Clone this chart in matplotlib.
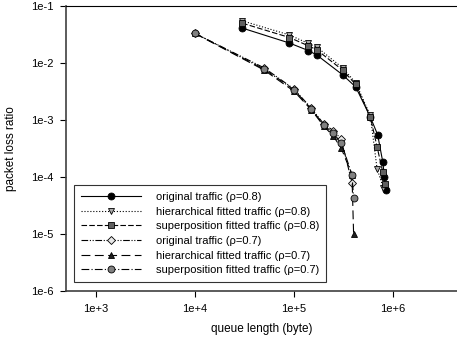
import matplotlib.pyplot as plt
from matplotlib.ticker import FixedLocator, NullLocator

plt.rcParams['font.family'] = ['Liberation Sans', 'DejaVu Sans']

# rho = 0.8
x_orig08 = [3e4, 9e4, 1.4e5, 1.7e5, 3.1e5, 4.2e5, 5.9e5, 7.0e5, 7.9e5, 8.2e5, 8.4e5]
y_orig08 = [0.041, 0.0224, 0.0165, 0.0138, 0.0062, 0.0038, 0.00113, 5.5e-4, 1.8e-4, 1.0e-4, 6e-5]
x_hier08 = [3e4, 9e4, 1.4e5, 1.7e5, 3.1e5, 4.2e5, 5.9e5, 6.9e5, 8.0e5]
y_hier08 = [0.055, 0.031, 0.022, 0.019, 0.0082, 0.0045, 0.0012, 1.4e-4, 6.4e-5]
x_sup08 = [3e4, 9e4, 1.4e5, 1.7e5, 3.1e5, 4.2e5, 5.9e5, 6.9e5, 7.9e5, 8.3e5]
y_sup08 = [0.050, 0.028, 0.020, 0.017, 0.0075, 0.0042, 0.00113, 3.4e-4, 1.2e-4, 7.5e-5]

# rho = 0.7
x_orig07 = [1e4, 5e4, 1e5, 1.5e5, 2e5, 2.5e5, 3e5, 3.85e5]
y_orig07 = [0.033, 0.0082, 0.0035, 0.0016, 8.5e-4, 6.5e-4, 4.6e-4, 8e-5]
x_hier07 = [1e4, 5e4, 1e5, 1.5e5, 2e5, 2.5e5, 3e5, 3.85e5, 4.0e5]
y_hier07 = [0.033, 0.0075, 0.0032, 0.0015, 7.8e-4, 5.2e-4, 3.2e-4, 1.1e-4, 1.0e-5]
x_sup07 = [1e4, 5e4, 1e5, 1.5e5, 2e5, 2.5e5, 3e5, 3.85e5, 4.0e5]
y_sup07 = [0.033, 0.0078, 0.0034, 0.00155, 8.2e-4, 5.8e-4, 4.0e-4, 1.1e-4, 4.3e-5]

labels = ['original traffic (\u03c1=0.8)', 'hierarchical fitted traffic (\u03c1=0.8)',
          'superposition fitted traffic (\u03c1=0.8)', 'original traffic (\u03c1=0.7)',
          'hierarchical fitted traffic (\u03c1=0.7)', 'superposition fitted traffic (\u03c1=0.7)']

fig = plt.figure(figsize=(4.57, 3.45), dpi=100)
ax = fig.add_axes([66 / 457, 1 - 291 / 345, 1 - 66 / 457, 285 / 345])

ms = 5
lw = 0.8
ax.plot(x_orig08, y_orig08, '-', color='black', lw=lw, marker='o', ms=ms,
        mfc='black', mec='black', mew=0.6, label=labels[0])
ax.plot(x_hier08, y_hier08, ':', color='black', lw=lw, marker='v', ms=ms,
        mfc='#a8a8a8', mec='black', mew=0.6, label=labels[1])
ax.plot(x_sup08, y_sup08, color='black', lw=lw, dashes=(5, 2), marker='s', ms=ms - 0.5,
        mfc='#606060', mec='black', mew=0.6, label=labels[2])
ax.plot(x_orig07, y_orig07, color='black', lw=lw, dashes=(6, 1.5, 1, 1.5, 1, 1.5), marker='D',
        ms=ms - 1, mfc='#e8e8e8', mec='black', mew=0.6, label=labels[3])
ax.plot(x_hier07, y_hier07, color='black', lw=lw, dashes=(8, 4), marker='^', ms=ms,
        mfc='#202020', mec='black', mew=0.6, label=labels[4])
ax.plot(x_sup07, y_sup07, color='black', lw=lw, dashes=(7, 2, 1, 2), marker='o', ms=ms,
        mfc='#808080', mec='black', mew=0.6, label=labels[5])

ax.set_xscale('log')
ax.set_yscale('log')
ax.set_xlim(10 ** (3 - 30 / 99), 10 ** (6 + 64 / 99))
ax.set_ylim(1e-6, 1e-1)

ax.xaxis.set_major_locator(FixedLocator([1e3, 1e4, 1e5, 1e6]))
ax.xaxis.set_minor_locator(NullLocator())
ax.set_xticklabels(['1e+3', '1e+4', '1e+5', '1e+6'])
ax.yaxis.set_major_locator(FixedLocator([1e-6, 1e-5, 1e-4, 1e-3, 1e-2, 1e-1]))
ax.yaxis.set_minor_locator(NullLocator())
ax.set_yticklabels(['1e-6', '1e-5', '1e-4', '1e-3', '1e-2', '1e-1'])
ax.tick_params(axis='both', direction='out', length=4, width=0.8, labelsize=8, pad=5)

ax.spines['right'].set_visible(False)
ax.spines['top'].set_linewidth(0.8)
for s in ('left', 'bottom'):
    ax.spines[s].set_linewidth(1.2)
    ax.spines[s].set_color('#404040')

ax.set_xlabel('queue length (byte)', fontsize=8.5, labelpad=7)
ax.set_ylabel('packet loss ratio', fontsize=8.5, labelpad=10)

leg = ax.legend(loc='lower left', bbox_to_anchor=(74 / 457, 1 - 282 / 345),
                bbox_transform=fig.transFigure, fontsize=8, frameon=True, fancybox=False,
                edgecolor='black', handlelength=5.4, handletextpad=1.4, labelspacing=0.42,
                borderpad=0.6, borderaxespad=0)
leg.get_frame().set_linewidth(0.8)

fig.savefig('out.png', dpi=100)
